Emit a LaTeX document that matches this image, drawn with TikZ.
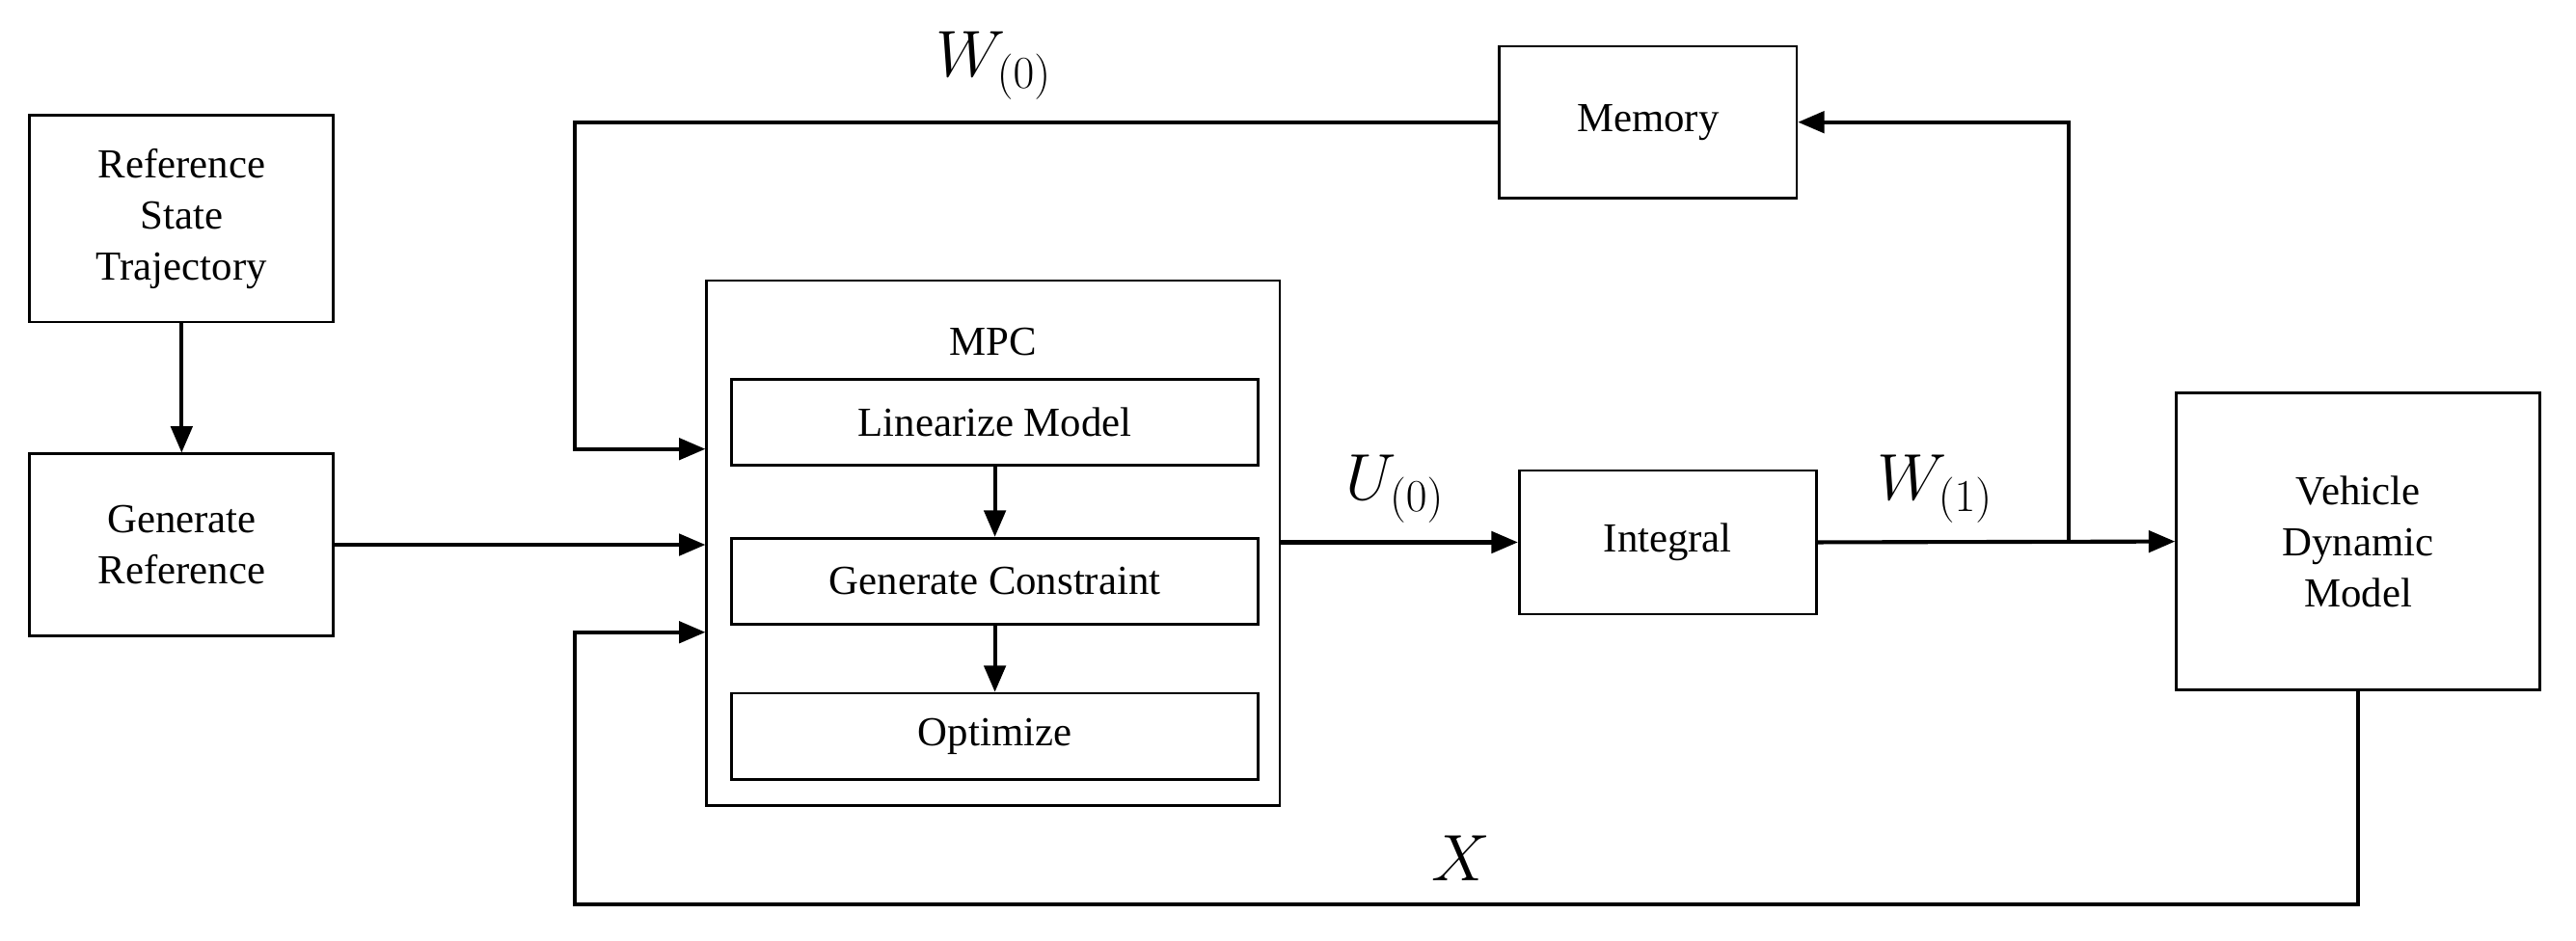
\documentclass[tikz,border=0pt]{standalone}
\usepackage{fontspec}
\setmainfont{Liberation Serif}
\usetikzlibrary{arrows.meta}
\begin{document}
\begin{tikzpicture}[x=1pt,y=-1pt,
  box/.style={draw,line width=1.6pt,inner sep=0pt,align=center,font=\fontsize{25}{31}\selectfont},
  arr/.style={line width=2.4pt,-{Triangle[length=16pt,width=13pt]}},
  lab/.style={font=\fontsize{24}{28}\selectfont,scale=1.6}]
\useasboundingbox (0,0) rectangle (1560,570);
\node[box,minimum width=184pt,minimum height=125pt] (rst) at (110,132.5) {Reference\\State\\Trajectory};
\node[box,minimum width=184pt,minimum height=110pt] (gr) at (110,330) {Generate\\Reference};
\node[box,minimum width=347pt,minimum height=318pt] (mpc) at (601.5,329) {};
\node[font=\fontsize{25}{31}\selectfont] (mpct) at (601.5,207) {MPC};
\node[box,minimum width=319pt,minimum height=52pt] (lin) at (602.5,256) {Linearize Model};
\node[box,minimum width=319pt,minimum height=52pt] (gc) at (602.5,352) {Generate Constraint};
\node[box,minimum width=319pt,minimum height=52pt] (opt) at (602.5,446) {Optimize};
\node[box,minimum width=180pt,minimum height=92pt] (mem) at (998,74) {Memory};
\node[box,minimum width=180pt,minimum height=87pt] (int) at (1010,328.5) {Integral};
\node[box,minimum width=220pt,minimum height=180pt] (veh) at (1428,328) {Vehicle\\Dynamic\\Model};
\coordinate (j) at (1253,328);
\coordinate (mtl) at (348,74);
\coordinate (mbl) at (348,548);
\coordinate (vb) at (1428,548);
\draw[arr] (rst) -- (gr);
\draw[arr] (gr.east) -- (gr.east -| mpc.west);
\draw[arr] (mpc.east |- int.west) -- (int.west);
\draw[arr] (int.east) -- (veh.west);
\draw[arr] (j) |- (mem.east);
\draw[arr] (mem.west) -- (mtl) |- (mpc.west |- 0,272);
\draw[arr] (veh.south) -- (vb) -- (mbl) |- (mpc.west |- 0,383);
\draw[arr] (lin) -- (gc);
\draw[arr] (gc) -- (opt);
\node[lab] (w0) at (602,40) {$W_{(0)}$};
\node[lab] (u0) at (845,296) {$U_{(0)}$};
\node[lab] (w1) at (1172,296) {$W_{(1)}$};
\node[lab] (x) at (885,520) {$X$};
\end{tikzpicture}
\end{document}
